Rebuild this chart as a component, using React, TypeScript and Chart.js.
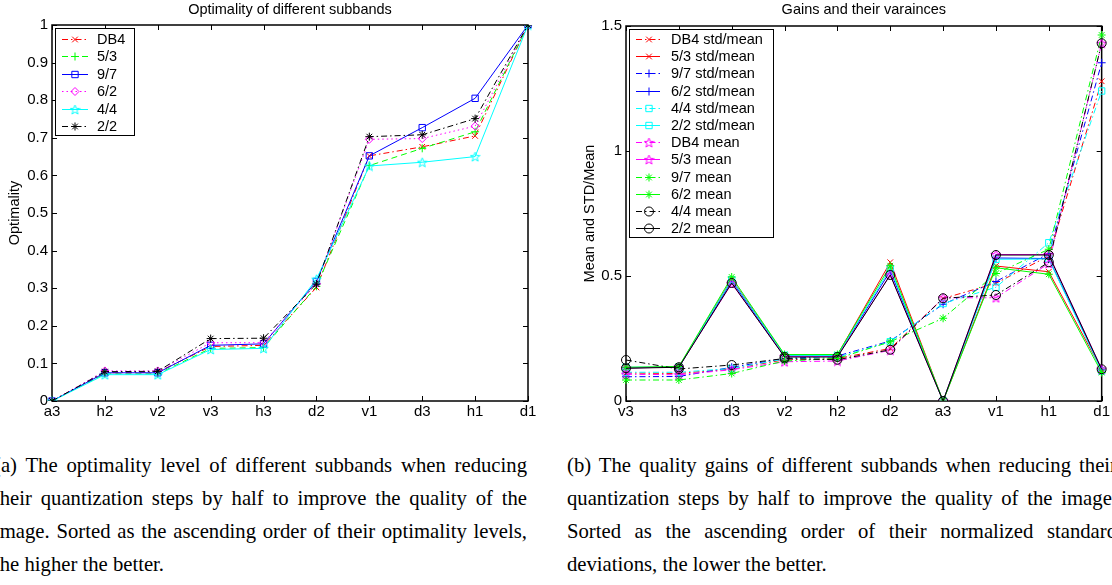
import React, { useEffect, useRef } from 'react';
import { Chart, registerables } from 'chart.js';
import { drawPoint } from 'chart.js/helpers';

Chart.register(...registerables);

// ---------------- Data: left chart (Optimality) ----------------
const leftCategories = ['a3', 'h2', 'v2', 'v3', 'h3', 'd2', 'v1', 'd3', 'h1', 'd1'];
const leftYTickValues = [0, 0.1, 0.2, 0.3, 0.4, 0.5, 0.6, 0.7, 0.8, 0.9, 1];
const leftYTickLabels = ['0', '0.1', '0.2', '0.3', '0.4', '0.5', '0.6', '0.7', '0.8', '0.9', '1'];
const leftSeriesNames = ['DB4', '5/3', '9/7', '6/2', '4/4', '2/2'];

const optDB4 = [0, 0.075, 0.077, 0.145, 0.148, 0.302, 0.652, 0.676, 0.705, 1];
const opt53 = [0, 0.072, 0.072, 0.140, 0.142, 0.305, 0.626, 0.672, 0.716, 1];
const opt97 = [0, 0.075, 0.075, 0.148, 0.152, 0.318, 0.652, 0.727, 0.805, 1];
const opt62 = [0, 0.080, 0.080, 0.155, 0.155, 0.312, 0.696, 0.698, 0.731, 1];
const opt44 = [0, 0.070, 0.070, 0.137, 0.140, 0.324, 0.625, 0.635, 0.650, 1];
const opt22 = [0, 0.078, 0.079, 0.166, 0.167, 0.311, 0.703, 0.708, 0.751, 1];

// ---------------- Data: right chart (Gains) ----------------
const rightCategories = ['v3', 'h3', 'd3', 'v2', 'h2', 'd2', 'a3', 'v1', 'h1', 'd1'];
const rightYTickValues = [0, 0.5, 1, 1.5];
const rightYTickLabels = ['0', '0.5', '1', '1.5'];
const rightSeriesNames = [
  'DB4 std/mean', '5/3 std/mean', '9/7 std/mean', '6/2 std/mean', '4/4 std/mean', '2/2 std/mean',
  'DB4 mean', '5/3 mean', '9/7 mean', '6/2 mean', '4/4 mean', '2/2 mean',
];

const gainDB4Std = [0.112, 0.110, 0.128, 0.165, 0.170, 0.210, 0.410, 0.471, 0.580, 1.279];
const gain53Std = [0.133, 0.136, 0.488, 0.184, 0.184, 0.555, 0, 0.540, 0.517, 0.125];
const gain97Std = [0.097, 0.098, 0.135, 0.170, 0.180, 0.240, 0.387, 0.478, 0.590, 1.353];
const gain62Std = [0.133, 0.135, 0.480, 0.180, 0.180, 0.520, 0, 0.572, 0.570, 0.125];
const gain44Std = [0.115, 0.115, 0.130, 0.168, 0.175, 0.237, 0.390, 0.455, 0.633, 1.240];
const gain22Std = [0.135, 0.136, 0.485, 0.183, 0.182, 0.530, 0, 0.567, 0.568, 0.120];
const gainDB4Mean = [0.107, 0.105, 0.125, 0.157, 0.160, 0.203, 0.413, 0.413, 0.550, 1.431];
const gain53Mean = [0.132, 0.136, 0.470, 0.178, 0.178, 0.505, 0, 0.586, 0.586, 0.128];
const gain97Mean = [0.084, 0.084, 0.110, 0.160, 0.170, 0.237, 0.331, 0.510, 0.607, 1.464];
const gain62Mean = [0.135, 0.138, 0.496, 0.186, 0.186, 0.541, 0, 0.533, 0.507, 0.114];
const gain44Mean = [0.164, 0.128, 0.144, 0.170, 0.165, 0.205, 0.411, 0.424, 0.555, 1.431];
const gain22Mean = [0.131, 0.135, 0.472, 0.176, 0.176, 0.504, 0, 0.584, 0.584, 0.127];

// ---------------- Captions ----------------
const leftCaptionLines = [
  '(a) The optimality level of different subbands when reducing',
  'their quantization steps by half to improve the quality of the',
  'image. Sorted as the ascending order of their optimality levels,',
  'the higher the better.',
];
const rightCaptionLines = [
  '(b) The quality gains of different subbands when reducing their',
  'quantization steps by half to improve the quality of the image.',
  'Sorted as the ascending order of their normalized standard',
  'deviations, the lower the better.',
];

// ---------------- Styles ----------------
const FONT = '"Liberation Sans", Arial, Helvetica, sans-serif';
const RED = '#ff0000';
const GREEN = '#00ff00';
const BLUE = '#0000ff';
const MAGENTA = '#ff00ff';
const CYAN = '#00ffff';
const BLACK = '#000000';
const DASHDOT = [6, 3, 1.5, 3];
const DASHED = [6, 4];
const DOTTED = [1.5, 3];
const SOLID: number[] = [];

const leftColors = [RED, GREEN, BLUE, MAGENTA, CYAN, BLACK];
const leftDashes = [DASHDOT, DASHED, SOLID, DOTTED, SOLID, DASHDOT];
const leftMarkers = ['crossRot', 'cross', 'rect', 'rectRot', 'pentagram', 'star'];

const rightColors = [RED, RED, BLUE, BLUE, CYAN, CYAN, MAGENTA, MAGENTA, GREEN, GREEN, BLACK, BLACK];
const rightDashes = [DASHDOT, SOLID, DASHDOT, SOLID, DASHDOT, SOLID, DASHDOT, SOLID, DASHDOT, SOLID, DASHDOT, SOLID];
const rightMarkers = ['crossRot', 'crossRot', 'cross', 'cross', 'rect', 'rect', 'pentagram', 'pentagram', 'star', 'star', 'circle', 'circle'];

function makePentagram(color: string, size = 11): HTMLCanvasElement {
  const c = document.createElement('canvas');
  c.width = size;
  c.height = size;
  const ctx = c.getContext('2d')!;
  const cx = size / 2;
  const cy = size / 2 + 0.5;
  const R = size / 2 - 0.5;
  const r = R * 0.42;
  ctx.beginPath();
  for (let i = 0; i < 10; i++) {
    const ang = -Math.PI / 2 + (i * Math.PI) / 5;
    const rad = i % 2 === 0 ? R : r;
    const x = cx + rad * Math.cos(ang);
    const y = cy + rad * Math.sin(ang);
    if (i === 0) ctx.moveTo(x, y);
    else ctx.lineTo(x, y);
  }
  ctx.closePath();
  ctx.strokeStyle = color;
  ctx.lineWidth = 1;
  ctx.stroke();
  return c;
}

const framePlugin = {
  id: 'frame',
  beforeDatasetsDraw(chart: any) {
    const { ctx, chartArea: a, scales } = chart;
    const xs = scales.x;
    const ys = scales.y;
    const L = 5;
    ctx.save();
    ctx.strokeStyle = '#000';
    ctx.lineWidth = 1;
    ctx.setLineDash([]);
    ctx.beginPath();
    xs.ticks.forEach((_t: any, i: number) => {
      const x = Math.round(xs.getPixelForTick(i)) + 0.5;
      ctx.moveTo(x, a.bottom);
      ctx.lineTo(x, a.bottom - L);
      ctx.moveTo(x, a.top);
      ctx.lineTo(x, a.top + L);
    });
    ys.ticks.forEach((_t: any, i: number) => {
      const y = Math.round(ys.getPixelForTick(i)) + 0.5;
      ctx.moveTo(a.left, y);
      ctx.lineTo(a.left + L, y);
      ctx.moveTo(a.right, y);
      ctx.lineTo(a.right - L, y);
    });
    ctx.stroke();
    ctx.lineWidth = 1.5;
    ctx.strokeRect(a.left, a.top, a.right - a.left, a.bottom - a.top);
    ctx.restore();
  },
};

const topTitlePlugin = {
  id: 'topTitle',
  afterDraw(chart: any, _args: any, opts: any) {
    const { ctx, chartArea: a } = chart;
    ctx.save();
    ctx.fillStyle = '#000';
    ctx.font = `14.5px ${FONT}`;
    ctx.textAlign = 'center';
    ctx.textBaseline = 'middle';
    ctx.fillText(opts.text, (a.left + a.right) / 2, opts.y);
    ctx.restore();
  },
};

const boxLegendPlugin = {
  id: 'boxLegend',
  afterDraw(chart: any, _args: any, o: any) {
    const { ctx } = chart;
    ctx.save();
    ctx.fillStyle = '#fff';
    ctx.fillRect(o.x, o.y, o.w, o.h);
    ctx.strokeStyle = '#000';
    ctx.lineWidth = 1;
    ctx.setLineDash([]);
    ctx.strokeRect(o.x + 0.5, o.y + 0.5, o.w, o.h);
    chart.data.datasets.forEach((ds: any, i: number) => {
      const ry = Math.round(o.rowStart + i * o.rowGap);
      ctx.strokeStyle = ds.borderColor;
      ctx.lineWidth = 1;
      ctx.setLineDash(ds.borderDash || []);
      ctx.beginPath();
      ctx.moveTo(o.lineX0, ry + 0.5);
      ctx.lineTo(o.lineX1, ry + 0.5);
      ctx.stroke();
      ctx.setLineDash([]);
      ctx.fillStyle = 'rgba(0,0,0,0)';
      drawPoint(ctx, { pointStyle: ds.pointStyle, radius: ds.pointRadius, borderWidth: 1, rotation: 0 } as any, o.markX, ry + 0.5);
      ctx.fillStyle = '#000';
      ctx.font = `14.5px ${FONT}`;
      ctx.textAlign = 'left';
      ctx.textBaseline = 'middle';
      ctx.fillText(ds.label, o.textX, ry + 1);
    });
    ctx.restore();
  },
};

function buildDatasets(names: string[], values: number[][], colors: string[], dashes: number[][], markers: string[]) {
  return names.map((name, i) => {
    const m = markers[i];
    const style: any = m === 'pentagram' ? makePentagram(colors[i]) : m;
    const radius = m === 'rect' || m === 'circle' ? 4.5 : 4;
    return {
      label: name,
      data: values[i],
      borderColor: colors[i],
      backgroundColor: colors[i],
      borderWidth: 1,
      borderDash: dashes[i],
      pointStyle: style,
      pointRadius: radius,
      pointHoverRadius: radius,
      pointBorderWidth: 1,
      pointBackgroundColor: 'rgba(0,0,0,0)',
      pointBorderColor: colors[i],
      fill: false,
      tension: 0,
      order: names.length - i,
    };
  });
}

function makeOptions(cfg: {
  yTickValues: number[];
  yTickLabels: string[];
  yMax: number;
  yTitle: string;
  yTitlePad: number;
  yWidth: number;
  padTop: number;
  padRight: number;
  title: string;
  legend: any;
}) {
  return {
    responsive: false,
    animation: false as const,
    events: [] as any[],
    layout: { padding: { top: cfg.padTop, right: cfg.padRight, left: 0, bottom: 0 } },
    plugins: {
      legend: { display: false },
      tooltip: { enabled: false },
      topTitle: { text: cfg.title, y: 10 },
      boxLegend: cfg.legend,
    },
    scales: {
      x: {
        type: 'category' as const,
        offset: false,
        grid: { display: false, drawTicks: false },
        border: { display: false },
        ticks: { color: '#000', font: { family: FONT, size: 15 }, padding: 2, maxRotation: 0, autoSkip: false },
        afterFit: (s: any) => {
          s.height = 19;
        },
      },
      y: {
        type: 'linear' as const,
        min: 0,
        max: cfg.yMax,
        grid: { display: false, drawTicks: false },
        border: { display: false },
        afterBuildTicks: (s: any) => {
          s.ticks = cfg.yTickValues.map((v) => ({ value: v }));
        },
        ticks: {
          color: '#000',
          font: { family: FONT, size: 15 },
          padding: 4,
          callback: (_v: any, i: number) => cfg.yTickLabels[i],
        },
        title: {
          display: true,
          text: cfg.yTitle,
          color: '#000',
          font: { family: FONT, size: 14.5 },
          padding: { top: cfg.yTitlePad, bottom: 0 },
        },
        afterFit: (s: any) => {
          s.width = cfg.yWidth;
        },
      },
    },
  };
}

export default function App() {
  const leftRef = useRef<HTMLCanvasElement>(null);
  const rightRef = useRef<HTMLCanvasElement>(null);

  useEffect(() => {
    const leftValues = [optDB4, opt53, opt97, opt62, opt44, opt22];
    const rightValues = [
      gainDB4Std, gain53Std, gain97Std, gain62Std, gain44Std, gain22Std,
      gainDB4Mean, gain53Mean, gain97Mean, gain62Mean, gain44Mean, gain22Mean,
    ];

    const left = new Chart(leftRef.current!, {
      type: 'line',
      data: {
        labels: leftCategories,
        datasets: buildDatasets(leftSeriesNames, leftValues, leftColors, leftDashes, leftMarkers) as any,
      },
      options: makeOptions({
        yTickValues: leftYTickValues,
        yTickLabels: leftYTickLabels,
        yMax: 1,
        yTitle: 'Optimality',
        yTitlePad: 6,
        yWidth: 52,
        padTop: 25,
        padRight: 28,
        title: 'Optimality of different subbands',
        legend: { x: 55, y: 28, w: 79, h: 107, rowStart: 39, rowGap: 17.4, lineX0: 62, lineX1: 88, markX: 75, textX: 97 },
      }) as any,
      plugins: [framePlugin, topTitlePlugin, boxLegendPlugin],
    });

    const right = new Chart(rightRef.current!, {
      type: 'line',
      data: {
        labels: rightCategories,
        datasets: buildDatasets(rightSeriesNames, rightValues, rightColors, rightDashes, rightMarkers) as any,
      },
      options: makeOptions({
        yTickValues: rightYTickValues,
        yTickLabels: rightYTickLabels,
        yMax: 1.5,
        yTitle: 'Mean and STD/Mean',
        yTitlePad: 25,
        yWidth: 70,
        padTop: 26,
        padRight: 10,
        title: 'Gains and their varainces',
        legend: { x: 73, y: 29, w: 144, h: 208, rowStart: 39, rowGap: 17.2, lineX0: 80, lineX1: 104, markX: 93, textX: 115 },
      }) as any,
      plugins: [framePlugin, topTitlePlugin, boxLegendPlugin],
    });

    return () => {
      left.destroy();
      right.destroy();
    };
  }, []);

  const captionLine = (text: string, last: boolean, key: number) => (
    <div
      key={key}
      style={{
        height: 33,
        lineHeight: '33px',
        textAlign: 'justify',
        textAlignLast: last ? 'left' : 'justify',
      } as any}
    >
      {text}
    </div>
  );

  const captionStyle: any = {
    position: 'absolute',
    top: 449,
    fontFamily: '"Liberation Serif", "Times New Roman", serif',
    fontSize: 20.7,
    color: '#000',
  };

  return (
    <div style={{ position: 'absolute', left: 0, top: 0, width: 1112, height: 585, overflow: 'hidden', background: '#fff' }}>
      <canvas ref={leftRef} width={556} height={420} style={{ position: 'absolute', left: 0, top: 0, width: 556, height: 420 }} />
      <canvas ref={rightRef} width={556} height={420} style={{ position: 'absolute', left: 556, top: 0, width: 556, height: 420 }} />
      <div style={{ ...captionStyle, left: -6, width: 533 }}>
        {leftCaptionLines.map((t, i) => captionLine(t, i === leftCaptionLines.length - 1, i))}
      </div>
      <div style={{ ...captionStyle, left: 567, width: 550 }}>
        {rightCaptionLines.map((t, i) => captionLine(t, i === rightCaptionLines.length - 1, i))}
      </div>
    </div>
  );
}
